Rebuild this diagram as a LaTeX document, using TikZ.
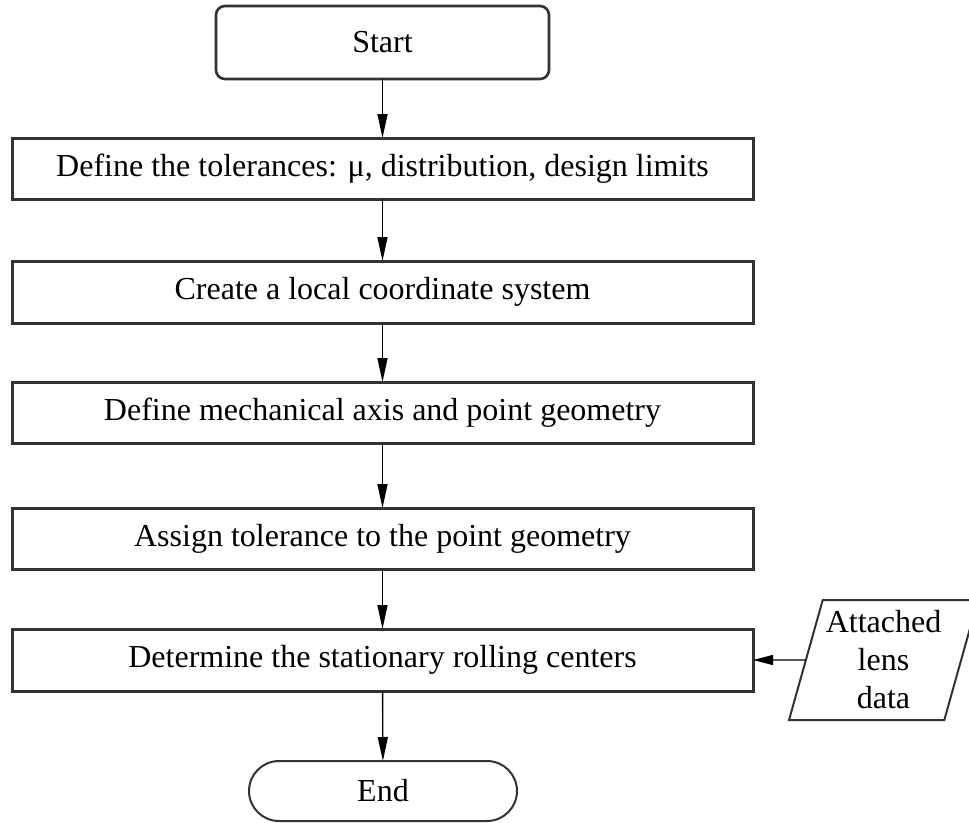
\documentclass[tikz,border=0pt]{standalone}
\usepackage{fontspec}
\setmainfont{Liberation Serif}
\usepackage{tikz}
\usetikzlibrary{positioning, shapes.geometric, shapes.misc, arrows.meta}

\definecolor{boxline}{HTML}{333333}

\begin{document}
\begin{tikzpicture}[x=1pt, y=1pt, line width=1.4pt, >={Triangle[length=24pt, width=10pt]},
    every node/.style={font=\fontsize{32}{38}\selectfont, align=center, inner sep=0pt, outer sep=0pt},
    process/.style={draw=boxline, line width=3pt, rectangle, minimum width=741pt, minimum height=61pt},
    terminal/.style={draw=boxline, line width=2.6pt},
    iobox/.style={draw=boxline, line width=2pt, trapezium, trapezium left angle=72, trapezium right angle=108, trapezium stretches=true, minimum width=189pt, minimum height=120pt}]
        \useasboundingbox (0,0) rectangle (969,-822);

        \node (start) [terminal, rectangle, rounded corners=9pt, minimum width=333pt, minimum height=73pt] at (382.5,-42.5) {Start};

        \node (limits) [process] at (382.5,-168.5) {Define the tolerances: μ, distribution, design limits};
        \node (frame) [process, minimum height=62pt] at (382.5,-292) {Create a local coordinate system};
        \node (axis) [process] at (382.5,-412.5) {Define mechanical axis and point geometry};
        \node (assign) [process] at (382.5,-538.5) {Assign tolerance to the point geometry};
        \node (centers) [process, minimum height=62pt] at (382.5,-660) {Determine the stationary rolling centers};

        \node (lens) [iobox] at (883.5,-660) {Attached\\lens\\data};

        \node (end) [terminal, rounded rectangle, line width=2pt, minimum width=268pt, minimum height=60pt] at (383,-791) {End};

        % main flow
        \draw[->] (start) -- (limits);
        \draw[->] (limits) -- (frame);
        \draw[->] (frame) -- (axis);
        \draw[->] (axis) -- (assign);
        \draw[->] (assign) -- (centers);
        \draw[->] (centers) -- (end);
        \draw[->, >={Triangle[length=20pt, width=10pt]}] (lens) -- (centers);
    \end{tikzpicture}
\end{document}
